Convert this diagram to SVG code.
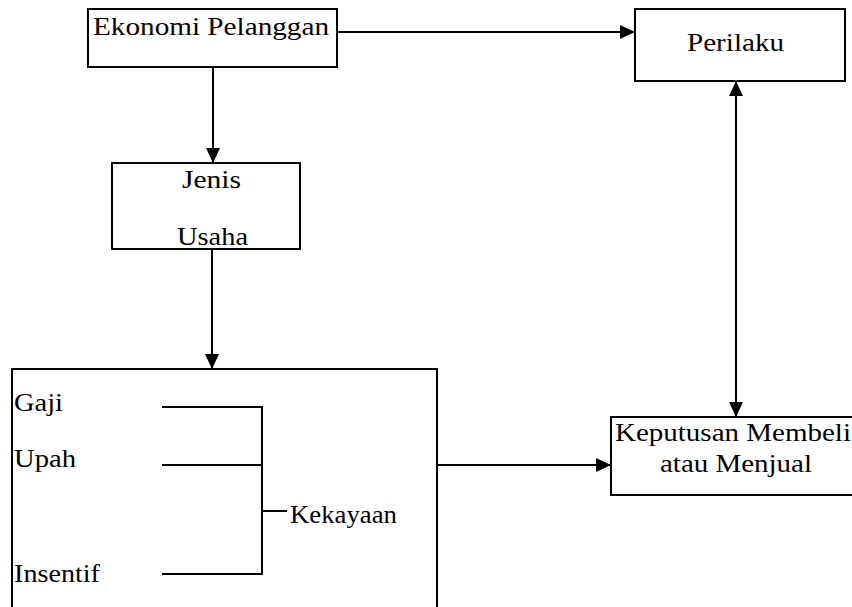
<svg xmlns="http://www.w3.org/2000/svg" width="852" height="607" viewBox="0 0 852 607">
<style>
.box{fill:#fff;stroke:#000;stroke-width:2}
.c{fill:none;stroke:#000;stroke-width:2}
text{font-family:'Liberation Serif','Times New Roman',serif;font-size:26px;fill:#000}
</style>
<defs>
<marker id="ah" markerWidth="15" markerHeight="14" refX="15" refY="7" orient="auto-start-reverse" markerUnits="userSpaceOnUse">
<path d="M0,0 L15,7 L0,14 Z" fill="#000"/>
</marker>
</defs>
<rect width="852" height="607" fill="#fff"/>
<g id="ekonomi">
<rect class="box" x="88" y="9" width="249" height="58"/>
<text x="93" y="35" textLength="236" lengthAdjust="spacingAndGlyphs">Ekonomi Pelanggan</text>
</g>
<g id="perilaku">
<rect class="box" x="635" y="9" width="210" height="72"/>
<text x="687" y="51" textLength="97" lengthAdjust="spacingAndGlyphs">Perilaku</text>
</g>
<g id="jenis">
<rect class="box" x="112" y="163" width="188" height="86"/>
<text x="182" y="188" textLength="59" lengthAdjust="spacingAndGlyphs">Jenis</text>
<text x="177" y="245" textLength="71" lengthAdjust="spacingAndGlyphs">Usaha</text>
</g>
<g id="kekayaan">
<rect class="box" x="12" y="369" width="425" height="250"/>
<text x="14" y="411" textLength="49" lengthAdjust="spacingAndGlyphs">Gaji</text>
<text x="14" y="467" textLength="62" lengthAdjust="spacingAndGlyphs">Upah</text>
<text x="14" y="582" textLength="86" lengthAdjust="spacingAndGlyphs">Insentif</text>
<text x="290" y="523" textLength="107" lengthAdjust="spacingAndGlyphs">Kekayaan</text>
<path class="c" d="M162,407 H262 M162,465 H262 M162,574 H262 M262,406 V575 M262,511 H287"/>
</g>
<g id="keputusan">
<rect class="box" x="611" y="417" width="250" height="78"/>
<text x="615" y="441" textLength="236" lengthAdjust="spacingAndGlyphs">Keputusan Membeli</text>
<text x="660" y="472" textLength="152" lengthAdjust="spacingAndGlyphs">atau Menjual</text>
</g>
<g id="connectors">
<line class="c" x1="337" y1="32" x2="635" y2="32" marker-end="url(#ah)"/>
<line class="c" x1="213" y1="67" x2="213" y2="163" marker-end="url(#ah)"/>
<line class="c" x1="212" y1="249" x2="212" y2="369" marker-end="url(#ah)"/>
<line class="c" x1="437" y1="465" x2="611" y2="465" marker-end="url(#ah)"/>
<line class="c" x1="736" y1="81" x2="736" y2="417" marker-start="url(#ah)" marker-end="url(#ah)"/>
</g>
</svg>
